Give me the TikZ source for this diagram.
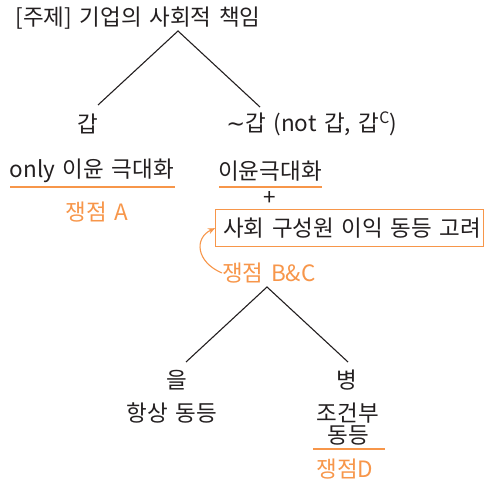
\documentclass[tikz,border=0pt]{standalone}
\usepackage{fontspec}
\setmainfont[WordSpace=1.5]{Noto Sans CJK KR}
\newfontfamily\symfont{DejaVu Sans}
\usetikzlibrary{arrows.meta}
\definecolor{ink}{HTML}{231F20}
\definecolor{org}{HTML}{F7964A}
\begin{document}
\begin{tikzpicture}[x=1pt,y=-1pt,
  font=\fontsize{22.5}{26}\selectfont,
  txt/.style={text=ink, inner sep=0pt, anchor=center},
  otxt/.style={text=org, inner sep=0pt, anchor=center},
  branch/.style={draw=ink, line width=1.1pt},
  uline/.style={draw=org, line width=1.4pt},
  obox/.style={draw=org, line width=1.4pt, inner sep=0pt}]
\useasboundingbox (0,0) rectangle (485,484);
% top tree
\node[txt] (title) at (138,18) {[주제] 기업의 사회적 책임};
\coordinate (a1) at (178,31);
\node[txt] (gap) at (88,124) {갑};
\node[txt] (notgap) at (312,124) {{\symfont ∼}갑 (not 갑, 갑\textsuperscript{C})};
\coordinate (l1) at (98,105);
\coordinate (r1) at (260,107);
\draw[branch] (l1) -- (a1) -- (r1);
% left branch
\node[txt] (only) at (92,171) {only 이윤 극대화};
\draw[uline] (10,187) coordinate (u1a) -- (175,187) coordinate (u1b);
\node[otxt] (issueA) at (97,212) {쟁점 A};
% right branch
\node[txt] (profit) at (270,171) {이윤극대화};
\draw[uline] (219,187) coordinate (u2a) -- (322,187) coordinate (u2b);
\node[txt] (plus) at (270,199) {+};
\node[obox, minimum width=268pt, minimum height=37pt, anchor=north west] (box) at (215,209) {};
\node[txt, anchor=west] (boxtext) at (223,228) {사회 구성원 이익 동등 고려};
\node[otxt, anchor=west] (issueBC) at (222,273) {쟁점 B\&C};
\draw[org, line width=1.1pt, -{Stealth[length=7pt,width=6pt]}] (issueBC.west) .. controls (196,262) and (194,238) .. (box.west);
% bottom tree
\coordinate (a2) at (267,287);
\node[txt] (eul) at (177,380) {을};
\node[txt] (byeong) at (347,380) {병};
\coordinate (l2) at (186,362);
\coordinate (r2) at (348,362);
\draw[branch] (l2) -- (a2) -- (r2);
\node[txt] (always) at (172,413) {항상 동등};
\node[txt] (cond) at (348,413) {조건부};
\node[txt] (equal) at (348,435) {동등};
\draw[uline] (313,449) coordinate (u3a) -- (385,449) coordinate (u3b);
\node[otxt] (issueD) at (345,469) {쟁점D};
\end{tikzpicture}
\end{document}
